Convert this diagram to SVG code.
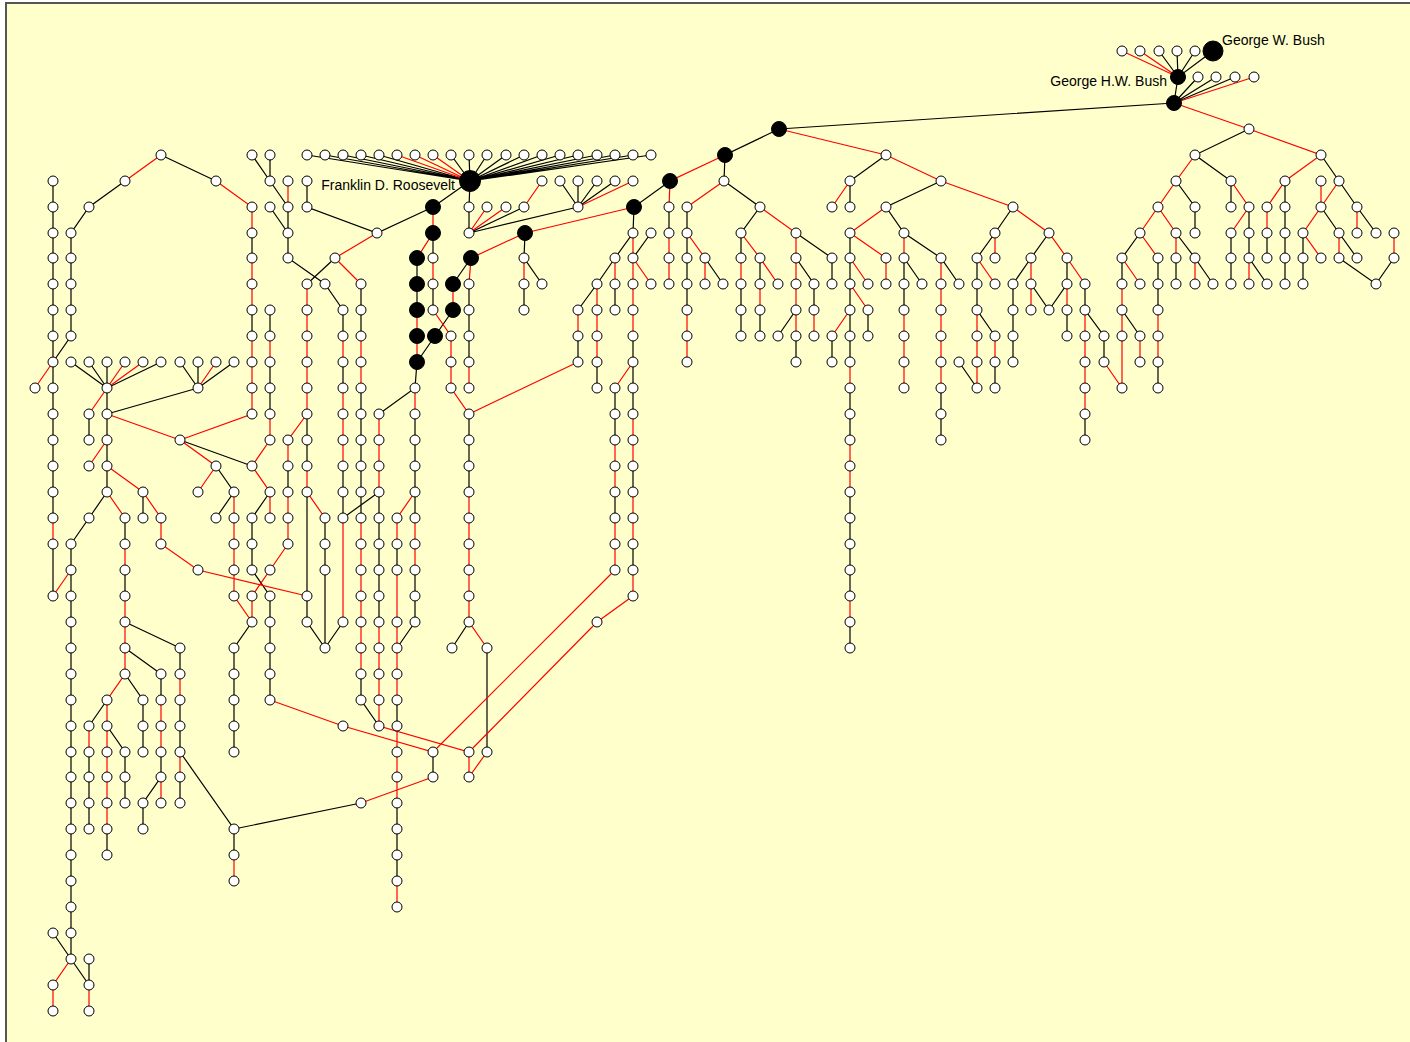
<svg xmlns="http://www.w3.org/2000/svg" width="1410" height="1042" viewBox="0 0 1410 1042">
<style>
.k{fill:none;stroke:#000;stroke-width:1.2}
.r{fill:none;stroke:#f00;stroke-width:1.2}
#nodes circle{fill:#fff;stroke:#000;stroke-width:1}
#nodes .big circle{fill:#000}
text{font-family:"Liberation Sans",Arial,sans-serif;font-size:14px;fill:#000}
</style>
<rect x="0" y="0" width="1410" height="1042" fill="#fff"/>
<rect x="6" y="3" width="1420" height="1050" fill="#ffffcc" stroke="#555" stroke-width="2"/>
<g id="connectors">
<path class="k" d="M161 155 216 181M125 181 89 207 71 233V336L53 362M53 181V518M53 544V596M107 388 71 362M107 388 89 362M107 388V362M107 388 161 362M198 388 180 362M198 388V362M198 388 234 362M107 388V492M198 388 107 414M89 414V440M107 492 89 518 71 544M143 492V518M180 440 252 466M216 466 234 492 216 518M270 492 252 518V570L270 596V700M252 622 234 648V752M252 155 270 181 288 207M270 155V181M270 207 288 233M288 207V258L325 284 343 310M252 233V258M252 310V336M270 310V336M270 362V414M288 466V492M71 544V959M71 959 89 985M89 959V985M53 933 71 959M125 518V544M125 570V596M125 622 180 648M125 648 161 674M125 674 143 700V752M180 648V674M180 700V752M180 777V803M161 674V700M161 752V777L143 803V829M107 829V855M107 700 89 726M89 752V829M107 726 125 752V803M180 752 234 829V855M234 829 361 803"/>
<path class="r" d="M161 155 125 181M53 362 35 388M53 518V544M71 570 53 596M216 181 252 207V233M252 258V310M252 336V414L180 440M107 388 125 362M107 388 143 362M198 388 216 362M107 388 89 414M107 414 180 440M107 440 89 466M107 466 143 492M107 492 125 518M143 492 161 518V544L198 570 307 596M125 544V570M125 596V674L107 700V829M180 440 216 466 198 492M234 492V596L252 622M270 440 252 466 270 492V518M288 544 270 570 252 596V622M270 700 343 726M288 181V207M270 336V362M270 414V440M307 414 288 440V466M288 492V544M71 959 53 985V1011M89 985V1011M180 674V700M180 752V777M161 700V752M161 777V803M89 726V752M234 855V881"/>
<path class="k" d="M470 181 307 155M470 181 325 155M470 181 343 155M470 181 361 155M470 181 379 155M470 181 451 155M470 181 469 155M470 181 487 155M470 181 506 155M470 181 524 155M470 181 542 155M470 181 560 155M470 181 578 155M470 181 597 155M470 181 615 155M470 181 633 155M470 181 651 155M470 181 433 207M417 258V310M433 233V258M433 284V310M417 362 415 388 379 414M471 258 453 284M453 310 435 336 417 362M469 284V362M525 233 524 258 542 284M524 284V310M470 181 469 207V233L524 207M469 233 578 207M578 207 560 181M578 207V181M578 207 597 181M578 207 615 181M307 181V207L377 233 433 207M335 258 307 284M307 414V466M307 492V622L325 648M325 518V648M343 310V336M343 362V388M343 466V518M343 622 325 648M379 492 343 518M361 284V336M361 388V518M361 674V700L379 726M379 492V622M397 544V570M397 700V726M397 803V881M415 622 397 648M415 414V518M415 570V622M469 414V492M469 622 452 648M487 648V752M433 752V777"/>
<path class="r" d="M470 181 397 155M470 181 415 155M470 181 433 155M433 207V233L417 258M417 310V362M433 258V284M433 310 451 336V388L469 414 578 362M415 388V414M634 207 525 233 471 258 469 284M453 284V310M469 362V388M524 258V284M469 233 487 207M469 233 506 207M524 207 542 181M578 207 633 181M377 233 335 258 361 284M307 284V414M307 466V492L325 518M343 336V362M343 388V466M343 518V622M361 336V388M361 518V674M379 414V492M379 622V726L469 752 597 622 633 596M415 492 397 518V544M397 570V700M397 726V803M397 881V907M415 518V570M469 492V622L487 648M343 726 433 752 615 570M433 777 361 803M469 752V777M487 752 469 777"/>
<path class="k" d="M779 129 725 155 724 181 760 207 741 233V258M779 129 1174 103M670 181 634 207 633 233 615 258 597 284 578 310M669 207V233M687 207V310M705 258 723 284M741 284V336M760 258V284M760 310V336M796 233 832 258V284M796 258 814 284V310M796 336V362M796 310 778 336M651 233 633 258M615 284V310M597 362V388M578 336V362M633 336V414M633 466V492M633 544V570M615 388V440M615 492V518"/>
<path class="r" d="M725 155 670 181 669 207M669 233V284M724 181 687 207M687 233 705 258V284M687 310V362M760 207 796 233V336M741 233 760 258 778 284M741 258V284M760 284V310M814 310V336M633 233V336M633 258 651 284M615 258V284M597 284V362M578 310V336M633 362 615 388M633 414V466M633 492V544M633 570V596M615 440V492M615 518V570"/>
<path class="k" d="M886 155 850 181V207M941 181 886 207 904 233 941 258 959 284M850 233V362M850 388V440M850 492V596M850 622V648M868 310V336M832 336V362M904 258V310M904 258 922 284M941 388V440M1013 207 995 233 977 258V310L995 336M995 362V388M959 362 977 388M1049 233 1031 258 1013 284V362M1031 284 1049 310 1067 284V258M1067 310V336M1085 284V310L1104 336V362M1085 414V440"/>
<path class="r" d="M779 129 886 155 941 181 1013 207 1049 233 1067 258 1085 284M850 181 832 207M886 207 850 233M850 233 886 258V284M850 258 868 284M850 284 868 310M850 310 832 336M850 362V388M850 440V492M850 596V622M904 233V258M904 310V388M941 258V388M995 233V258M977 258 995 284M977 310V388M995 336V362M1031 258V310M1067 284V310M1085 310V414M1104 362 1122 388"/>
<path class="k" d="M1213 51 1178 77 1174 103M1178 77 1159 51M1178 77 1177 51M1178 77 1195 51M1174 103 1198 77M1174 103 1216 77M1174 103 1235 77M1249 129 1195 155 1231 181V207M1176 181 1195 207V233M1321 155 1339 181 1357 207 1376 233M1285 181V284M1321 207 1339 233 1357 258M1339 258 1376 284 1394 258M1140 233 1122 258V284M1176 233 1195 258 1213 284M1249 207V258L1267 284M1231 233V284M1267 233V258M1303 233V284M1158 258V310M1176 258V284M1122 310 1140 336M1158 362V388"/>
<path class="r" d="M1178 77 1122 51M1178 77 1140 51M1174 103 1254 77M1174 103 1249 129 1321 155 1285 181 1267 207V233M1195 155 1176 181 1158 207 1140 233M1158 207 1176 233V258M1231 181 1249 207 1231 233M1321 181V207L1303 233 1321 258M1339 181 1321 207M1357 207V233M1339 233V258M1394 233V258M1140 233 1158 258M1122 258 1140 284M1195 258V284M1249 258V284M1122 284V388M1140 336V362M1158 310V362"/>
</g>
<g id="nodes">
<g id="n35_388"><circle cx="35" cy="388" r="5"/></g>
<g id="n53_181"><circle cx="53" cy="181" r="5"/></g>
<g id="n53_207"><circle cx="53" cy="207" r="5"/></g>
<g id="n53_233"><circle cx="53" cy="233" r="5"/></g>
<g id="n53_258"><circle cx="53" cy="258" r="5"/></g>
<g id="n53_284"><circle cx="53" cy="284" r="5"/></g>
<g id="n53_310"><circle cx="53" cy="310" r="5"/></g>
<g id="n53_336"><circle cx="53" cy="336" r="5"/></g>
<g id="n53_362"><circle cx="53" cy="362" r="5"/></g>
<g id="n53_388"><circle cx="53" cy="388" r="5"/></g>
<g id="n53_414"><circle cx="53" cy="414" r="5"/></g>
<g id="n53_440"><circle cx="53" cy="440" r="5"/></g>
<g id="n53_466"><circle cx="53" cy="466" r="5"/></g>
<g id="n53_492"><circle cx="53" cy="492" r="5"/></g>
<g id="n53_518"><circle cx="53" cy="518" r="5"/></g>
<g id="n53_544"><circle cx="53" cy="544" r="5"/></g>
<g id="n53_596"><circle cx="53" cy="596" r="5"/></g>
<g id="n53_933"><circle cx="53" cy="933" r="5"/></g>
<g id="n53_985"><circle cx="53" cy="985" r="5"/></g>
<g id="n53_1011"><circle cx="53" cy="1011" r="5"/></g>
<g id="n71_233"><circle cx="71" cy="233" r="5"/></g>
<g id="n71_258"><circle cx="71" cy="258" r="5"/></g>
<g id="n71_284"><circle cx="71" cy="284" r="5"/></g>
<g id="n71_310"><circle cx="71" cy="310" r="5"/></g>
<g id="n71_336"><circle cx="71" cy="336" r="5"/></g>
<g id="n71_362"><circle cx="71" cy="362" r="5"/></g>
<g id="n71_544"><circle cx="71" cy="544" r="5"/></g>
<g id="n71_570"><circle cx="71" cy="570" r="5"/></g>
<g id="n71_596"><circle cx="71" cy="596" r="5"/></g>
<g id="n71_622"><circle cx="71" cy="622" r="5"/></g>
<g id="n71_648"><circle cx="71" cy="648" r="5"/></g>
<g id="n71_674"><circle cx="71" cy="674" r="5"/></g>
<g id="n71_700"><circle cx="71" cy="700" r="5"/></g>
<g id="n71_726"><circle cx="71" cy="726" r="5"/></g>
<g id="n71_752"><circle cx="71" cy="752" r="5"/></g>
<g id="n71_777"><circle cx="71" cy="777" r="5"/></g>
<g id="n71_803"><circle cx="71" cy="803" r="5"/></g>
<g id="n71_829"><circle cx="71" cy="829" r="5"/></g>
<g id="n71_855"><circle cx="71" cy="855" r="5"/></g>
<g id="n71_881"><circle cx="71" cy="881" r="5"/></g>
<g id="n71_907"><circle cx="71" cy="907" r="5"/></g>
<g id="n71_933"><circle cx="71" cy="933" r="5"/></g>
<g id="n71_959"><circle cx="71" cy="959" r="5"/></g>
<g id="n89_207"><circle cx="89" cy="207" r="5"/></g>
<g id="n89_362"><circle cx="89" cy="362" r="5"/></g>
<g id="n89_414"><circle cx="89" cy="414" r="5"/></g>
<g id="n89_440"><circle cx="89" cy="440" r="5"/></g>
<g id="n89_466"><circle cx="89" cy="466" r="5"/></g>
<g id="n89_518"><circle cx="89" cy="518" r="5"/></g>
<g id="n89_726"><circle cx="89" cy="726" r="5"/></g>
<g id="n89_752"><circle cx="89" cy="752" r="5"/></g>
<g id="n89_777"><circle cx="89" cy="777" r="5"/></g>
<g id="n89_803"><circle cx="89" cy="803" r="5"/></g>
<g id="n89_829"><circle cx="89" cy="829" r="5"/></g>
<g id="n89_959"><circle cx="89" cy="959" r="5"/></g>
<g id="n89_985"><circle cx="89" cy="985" r="5"/></g>
<g id="n89_1011"><circle cx="89" cy="1011" r="5"/></g>
<g id="n107_362"><circle cx="107" cy="362" r="5"/></g>
<g id="n107_388"><circle cx="107" cy="388" r="5"/></g>
<g id="n107_414"><circle cx="107" cy="414" r="5"/></g>
<g id="n107_440"><circle cx="107" cy="440" r="5"/></g>
<g id="n107_466"><circle cx="107" cy="466" r="5"/></g>
<g id="n107_492"><circle cx="107" cy="492" r="5"/></g>
<g id="n107_700"><circle cx="107" cy="700" r="5"/></g>
<g id="n107_726"><circle cx="107" cy="726" r="5"/></g>
<g id="n107_752"><circle cx="107" cy="752" r="5"/></g>
<g id="n107_777"><circle cx="107" cy="777" r="5"/></g>
<g id="n107_803"><circle cx="107" cy="803" r="5"/></g>
<g id="n107_829"><circle cx="107" cy="829" r="5"/></g>
<g id="n107_855"><circle cx="107" cy="855" r="5"/></g>
<g id="n125_181"><circle cx="125" cy="181" r="5"/></g>
<g id="n125_362"><circle cx="125" cy="362" r="5"/></g>
<g id="n125_518"><circle cx="125" cy="518" r="5"/></g>
<g id="n125_544"><circle cx="125" cy="544" r="5"/></g>
<g id="n125_570"><circle cx="125" cy="570" r="5"/></g>
<g id="n125_596"><circle cx="125" cy="596" r="5"/></g>
<g id="n125_622"><circle cx="125" cy="622" r="5"/></g>
<g id="n125_648"><circle cx="125" cy="648" r="5"/></g>
<g id="n125_674"><circle cx="125" cy="674" r="5"/></g>
<g id="n125_752"><circle cx="125" cy="752" r="5"/></g>
<g id="n125_777"><circle cx="125" cy="777" r="5"/></g>
<g id="n125_803"><circle cx="125" cy="803" r="5"/></g>
<g id="n143_362"><circle cx="143" cy="362" r="5"/></g>
<g id="n143_492"><circle cx="143" cy="492" r="5"/></g>
<g id="n143_518"><circle cx="143" cy="518" r="5"/></g>
<g id="n143_700"><circle cx="143" cy="700" r="5"/></g>
<g id="n143_726"><circle cx="143" cy="726" r="5"/></g>
<g id="n143_752"><circle cx="143" cy="752" r="5"/></g>
<g id="n143_803"><circle cx="143" cy="803" r="5"/></g>
<g id="n143_829"><circle cx="143" cy="829" r="5"/></g>
<g id="n161_155"><circle cx="161" cy="155" r="5"/></g>
<g id="n161_362"><circle cx="161" cy="362" r="5"/></g>
<g id="n161_518"><circle cx="161" cy="518" r="5"/></g>
<g id="n161_544"><circle cx="161" cy="544" r="5"/></g>
<g id="n161_674"><circle cx="161" cy="674" r="5"/></g>
<g id="n161_700"><circle cx="161" cy="700" r="5"/></g>
<g id="n161_726"><circle cx="161" cy="726" r="5"/></g>
<g id="n161_752"><circle cx="161" cy="752" r="5"/></g>
<g id="n161_777"><circle cx="161" cy="777" r="5"/></g>
<g id="n161_803"><circle cx="161" cy="803" r="5"/></g>
<g id="n180_362"><circle cx="180" cy="362" r="5"/></g>
<g id="n180_440"><circle cx="180" cy="440" r="5"/></g>
<g id="n180_648"><circle cx="180" cy="648" r="5"/></g>
<g id="n180_674"><circle cx="180" cy="674" r="5"/></g>
<g id="n180_700"><circle cx="180" cy="700" r="5"/></g>
<g id="n180_726"><circle cx="180" cy="726" r="5"/></g>
<g id="n180_752"><circle cx="180" cy="752" r="5"/></g>
<g id="n180_777"><circle cx="180" cy="777" r="5"/></g>
<g id="n180_803"><circle cx="180" cy="803" r="5"/></g>
<g id="n198_362"><circle cx="198" cy="362" r="5"/></g>
<g id="n198_388"><circle cx="198" cy="388" r="5"/></g>
<g id="n198_492"><circle cx="198" cy="492" r="5"/></g>
<g id="n198_570"><circle cx="198" cy="570" r="5"/></g>
<g id="n216_181"><circle cx="216" cy="181" r="5"/></g>
<g id="n216_362"><circle cx="216" cy="362" r="5"/></g>
<g id="n216_466"><circle cx="216" cy="466" r="5"/></g>
<g id="n216_518"><circle cx="216" cy="518" r="5"/></g>
<g id="n234_362"><circle cx="234" cy="362" r="5"/></g>
<g id="n234_492"><circle cx="234" cy="492" r="5"/></g>
<g id="n234_518"><circle cx="234" cy="518" r="5"/></g>
<g id="n234_544"><circle cx="234" cy="544" r="5"/></g>
<g id="n234_570"><circle cx="234" cy="570" r="5"/></g>
<g id="n234_596"><circle cx="234" cy="596" r="5"/></g>
<g id="n234_648"><circle cx="234" cy="648" r="5"/></g>
<g id="n234_674"><circle cx="234" cy="674" r="5"/></g>
<g id="n234_700"><circle cx="234" cy="700" r="5"/></g>
<g id="n234_726"><circle cx="234" cy="726" r="5"/></g>
<g id="n234_752"><circle cx="234" cy="752" r="5"/></g>
<g id="n234_829"><circle cx="234" cy="829" r="5"/></g>
<g id="n234_855"><circle cx="234" cy="855" r="5"/></g>
<g id="n234_881"><circle cx="234" cy="881" r="5"/></g>
<g id="n252_155"><circle cx="252" cy="155" r="5"/></g>
<g id="n252_207"><circle cx="252" cy="207" r="5"/></g>
<g id="n252_233"><circle cx="252" cy="233" r="5"/></g>
<g id="n252_258"><circle cx="252" cy="258" r="5"/></g>
<g id="n252_284"><circle cx="252" cy="284" r="5"/></g>
<g id="n252_310"><circle cx="252" cy="310" r="5"/></g>
<g id="n252_336"><circle cx="252" cy="336" r="5"/></g>
<g id="n252_362"><circle cx="252" cy="362" r="5"/></g>
<g id="n252_388"><circle cx="252" cy="388" r="5"/></g>
<g id="n252_414"><circle cx="252" cy="414" r="5"/></g>
<g id="n252_466"><circle cx="252" cy="466" r="5"/></g>
<g id="n252_518"><circle cx="252" cy="518" r="5"/></g>
<g id="n252_544"><circle cx="252" cy="544" r="5"/></g>
<g id="n252_570"><circle cx="252" cy="570" r="5"/></g>
<g id="n252_596"><circle cx="252" cy="596" r="5"/></g>
<g id="n252_622"><circle cx="252" cy="622" r="5"/></g>
<g id="n270_155"><circle cx="270" cy="155" r="5"/></g>
<g id="n270_181"><circle cx="270" cy="181" r="5"/></g>
<g id="n270_207"><circle cx="270" cy="207" r="5"/></g>
<g id="n270_310"><circle cx="270" cy="310" r="5"/></g>
<g id="n270_336"><circle cx="270" cy="336" r="5"/></g>
<g id="n270_362"><circle cx="270" cy="362" r="5"/></g>
<g id="n270_388"><circle cx="270" cy="388" r="5"/></g>
<g id="n270_414"><circle cx="270" cy="414" r="5"/></g>
<g id="n270_440"><circle cx="270" cy="440" r="5"/></g>
<g id="n270_492"><circle cx="270" cy="492" r="5"/></g>
<g id="n270_518"><circle cx="270" cy="518" r="5"/></g>
<g id="n270_570"><circle cx="270" cy="570" r="5"/></g>
<g id="n270_596"><circle cx="270" cy="596" r="5"/></g>
<g id="n270_622"><circle cx="270" cy="622" r="5"/></g>
<g id="n270_648"><circle cx="270" cy="648" r="5"/></g>
<g id="n270_674"><circle cx="270" cy="674" r="5"/></g>
<g id="n270_700"><circle cx="270" cy="700" r="5"/></g>
<g id="n288_181"><circle cx="288" cy="181" r="5"/></g>
<g id="n288_207"><circle cx="288" cy="207" r="5"/></g>
<g id="n288_233"><circle cx="288" cy="233" r="5"/></g>
<g id="n288_258"><circle cx="288" cy="258" r="5"/></g>
<g id="n288_440"><circle cx="288" cy="440" r="5"/></g>
<g id="n288_466"><circle cx="288" cy="466" r="5"/></g>
<g id="n288_492"><circle cx="288" cy="492" r="5"/></g>
<g id="n288_518"><circle cx="288" cy="518" r="5"/></g>
<g id="n288_544"><circle cx="288" cy="544" r="5"/></g>
<g id="n307_155"><circle cx="307" cy="155" r="5"/></g>
<g id="n307_181"><circle cx="307" cy="181" r="5"/></g>
<g id="n307_207"><circle cx="307" cy="207" r="5"/></g>
<g id="n307_284"><circle cx="307" cy="284" r="5"/></g>
<g id="n307_310"><circle cx="307" cy="310" r="5"/></g>
<g id="n307_336"><circle cx="307" cy="336" r="5"/></g>
<g id="n307_362"><circle cx="307" cy="362" r="5"/></g>
<g id="n307_388"><circle cx="307" cy="388" r="5"/></g>
<g id="n307_414"><circle cx="307" cy="414" r="5"/></g>
<g id="n307_440"><circle cx="307" cy="440" r="5"/></g>
<g id="n307_466"><circle cx="307" cy="466" r="5"/></g>
<g id="n307_492"><circle cx="307" cy="492" r="5"/></g>
<g id="n307_596"><circle cx="307" cy="596" r="5"/></g>
<g id="n307_622"><circle cx="307" cy="622" r="5"/></g>
<g id="n325_155"><circle cx="325" cy="155" r="5"/></g>
<g id="n325_284"><circle cx="325" cy="284" r="5"/></g>
<g id="n325_518"><circle cx="325" cy="518" r="5"/></g>
<g id="n325_544"><circle cx="325" cy="544" r="5"/></g>
<g id="n325_570"><circle cx="325" cy="570" r="5"/></g>
<g id="n325_648"><circle cx="325" cy="648" r="5"/></g>
<g id="n335_258"><circle cx="335" cy="258" r="5"/></g>
<g id="n343_155"><circle cx="343" cy="155" r="5"/></g>
<g id="n343_310"><circle cx="343" cy="310" r="5"/></g>
<g id="n343_336"><circle cx="343" cy="336" r="5"/></g>
<g id="n343_362"><circle cx="343" cy="362" r="5"/></g>
<g id="n343_388"><circle cx="343" cy="388" r="5"/></g>
<g id="n343_414"><circle cx="343" cy="414" r="5"/></g>
<g id="n343_440"><circle cx="343" cy="440" r="5"/></g>
<g id="n343_466"><circle cx="343" cy="466" r="5"/></g>
<g id="n343_492"><circle cx="343" cy="492" r="5"/></g>
<g id="n343_518"><circle cx="343" cy="518" r="5"/></g>
<g id="n343_622"><circle cx="343" cy="622" r="5"/></g>
<g id="n343_726"><circle cx="343" cy="726" r="5"/></g>
<g id="n361_155"><circle cx="361" cy="155" r="5"/></g>
<g id="n361_284"><circle cx="361" cy="284" r="5"/></g>
<g id="n361_310"><circle cx="361" cy="310" r="5"/></g>
<g id="n361_336"><circle cx="361" cy="336" r="5"/></g>
<g id="n361_362"><circle cx="361" cy="362" r="5"/></g>
<g id="n361_388"><circle cx="361" cy="388" r="5"/></g>
<g id="n361_414"><circle cx="361" cy="414" r="5"/></g>
<g id="n361_440"><circle cx="361" cy="440" r="5"/></g>
<g id="n361_466"><circle cx="361" cy="466" r="5"/></g>
<g id="n361_492"><circle cx="361" cy="492" r="5"/></g>
<g id="n361_518"><circle cx="361" cy="518" r="5"/></g>
<g id="n361_544"><circle cx="361" cy="544" r="5"/></g>
<g id="n361_570"><circle cx="361" cy="570" r="5"/></g>
<g id="n361_596"><circle cx="361" cy="596" r="5"/></g>
<g id="n361_622"><circle cx="361" cy="622" r="5"/></g>
<g id="n361_648"><circle cx="361" cy="648" r="5"/></g>
<g id="n361_674"><circle cx="361" cy="674" r="5"/></g>
<g id="n361_700"><circle cx="361" cy="700" r="5"/></g>
<g id="n361_803"><circle cx="361" cy="803" r="5"/></g>
<g id="n377_233"><circle cx="377" cy="233" r="5"/></g>
<g id="n379_155"><circle cx="379" cy="155" r="5"/></g>
<g id="n379_414"><circle cx="379" cy="414" r="5"/></g>
<g id="n379_440"><circle cx="379" cy="440" r="5"/></g>
<g id="n379_466"><circle cx="379" cy="466" r="5"/></g>
<g id="n379_492"><circle cx="379" cy="492" r="5"/></g>
<g id="n379_518"><circle cx="379" cy="518" r="5"/></g>
<g id="n379_544"><circle cx="379" cy="544" r="5"/></g>
<g id="n379_570"><circle cx="379" cy="570" r="5"/></g>
<g id="n379_596"><circle cx="379" cy="596" r="5"/></g>
<g id="n379_622"><circle cx="379" cy="622" r="5"/></g>
<g id="n379_648"><circle cx="379" cy="648" r="5"/></g>
<g id="n379_674"><circle cx="379" cy="674" r="5"/></g>
<g id="n379_700"><circle cx="379" cy="700" r="5"/></g>
<g id="n379_726"><circle cx="379" cy="726" r="5"/></g>
<g id="n397_155"><circle cx="397" cy="155" r="5"/></g>
<g id="n397_518"><circle cx="397" cy="518" r="5"/></g>
<g id="n397_544"><circle cx="397" cy="544" r="5"/></g>
<g id="n397_570"><circle cx="397" cy="570" r="5"/></g>
<g id="n397_622"><circle cx="397" cy="622" r="5"/></g>
<g id="n397_648"><circle cx="397" cy="648" r="5"/></g>
<g id="n397_674"><circle cx="397" cy="674" r="5"/></g>
<g id="n397_700"><circle cx="397" cy="700" r="5"/></g>
<g id="n397_726"><circle cx="397" cy="726" r="5"/></g>
<g id="n397_752"><circle cx="397" cy="752" r="5"/></g>
<g id="n397_777"><circle cx="397" cy="777" r="5"/></g>
<g id="n397_803"><circle cx="397" cy="803" r="5"/></g>
<g id="n397_829"><circle cx="397" cy="829" r="5"/></g>
<g id="n397_855"><circle cx="397" cy="855" r="5"/></g>
<g id="n397_881"><circle cx="397" cy="881" r="5"/></g>
<g id="n397_907"><circle cx="397" cy="907" r="5"/></g>
<g id="n415_155"><circle cx="415" cy="155" r="5"/></g>
<g id="n415_388"><circle cx="415" cy="388" r="5"/></g>
<g id="n415_414"><circle cx="415" cy="414" r="5"/></g>
<g id="n415_440"><circle cx="415" cy="440" r="5"/></g>
<g id="n415_466"><circle cx="415" cy="466" r="5"/></g>
<g id="n415_492"><circle cx="415" cy="492" r="5"/></g>
<g id="n415_518"><circle cx="415" cy="518" r="5"/></g>
<g id="n415_544"><circle cx="415" cy="544" r="5"/></g>
<g id="n415_570"><circle cx="415" cy="570" r="5"/></g>
<g id="n415_596"><circle cx="415" cy="596" r="5"/></g>
<g id="n415_622"><circle cx="415" cy="622" r="5"/></g>
<g id="n433_155"><circle cx="433" cy="155" r="5"/></g>
<g id="n433_258"><circle cx="433" cy="258" r="5"/></g>
<g id="n433_284"><circle cx="433" cy="284" r="5"/></g>
<g id="n433_310"><circle cx="433" cy="310" r="5"/></g>
<g id="n433_752"><circle cx="433" cy="752" r="5"/></g>
<g id="n433_777"><circle cx="433" cy="777" r="5"/></g>
<g id="n451_155"><circle cx="451" cy="155" r="5"/></g>
<g id="n451_336"><circle cx="451" cy="336" r="5"/></g>
<g id="n451_362"><circle cx="451" cy="362" r="5"/></g>
<g id="n451_388"><circle cx="451" cy="388" r="5"/></g>
<g id="n452_648"><circle cx="452" cy="648" r="5"/></g>
<g id="n469_155"><circle cx="469" cy="155" r="5"/></g>
<g id="n469_207"><circle cx="469" cy="207" r="5"/></g>
<g id="n469_233"><circle cx="469" cy="233" r="5"/></g>
<g id="n469_284"><circle cx="469" cy="284" r="5"/></g>
<g id="n469_310"><circle cx="469" cy="310" r="5"/></g>
<g id="n469_336"><circle cx="469" cy="336" r="5"/></g>
<g id="n469_362"><circle cx="469" cy="362" r="5"/></g>
<g id="n469_388"><circle cx="469" cy="388" r="5"/></g>
<g id="n469_414"><circle cx="469" cy="414" r="5"/></g>
<g id="n469_440"><circle cx="469" cy="440" r="5"/></g>
<g id="n469_466"><circle cx="469" cy="466" r="5"/></g>
<g id="n469_492"><circle cx="469" cy="492" r="5"/></g>
<g id="n469_518"><circle cx="469" cy="518" r="5"/></g>
<g id="n469_544"><circle cx="469" cy="544" r="5"/></g>
<g id="n469_570"><circle cx="469" cy="570" r="5"/></g>
<g id="n469_596"><circle cx="469" cy="596" r="5"/></g>
<g id="n469_622"><circle cx="469" cy="622" r="5"/></g>
<g id="n469_752"><circle cx="469" cy="752" r="5"/></g>
<g id="n469_777"><circle cx="469" cy="777" r="5"/></g>
<g id="n487_155"><circle cx="487" cy="155" r="5"/></g>
<g id="n487_207"><circle cx="487" cy="207" r="5"/></g>
<g id="n487_648"><circle cx="487" cy="648" r="5"/></g>
<g id="n487_752"><circle cx="487" cy="752" r="5"/></g>
<g id="n506_155"><circle cx="506" cy="155" r="5"/></g>
<g id="n506_207"><circle cx="506" cy="207" r="5"/></g>
<g id="n524_155"><circle cx="524" cy="155" r="5"/></g>
<g id="n524_207"><circle cx="524" cy="207" r="5"/></g>
<g id="n524_258"><circle cx="524" cy="258" r="5"/></g>
<g id="n524_284"><circle cx="524" cy="284" r="5"/></g>
<g id="n524_310"><circle cx="524" cy="310" r="5"/></g>
<g id="n542_155"><circle cx="542" cy="155" r="5"/></g>
<g id="n542_181"><circle cx="542" cy="181" r="5"/></g>
<g id="n542_284"><circle cx="542" cy="284" r="5"/></g>
<g id="n560_155"><circle cx="560" cy="155" r="5"/></g>
<g id="n560_181"><circle cx="560" cy="181" r="5"/></g>
<g id="n578_155"><circle cx="578" cy="155" r="5"/></g>
<g id="n578_181"><circle cx="578" cy="181" r="5"/></g>
<g id="n578_207"><circle cx="578" cy="207" r="5"/></g>
<g id="n578_310"><circle cx="578" cy="310" r="5"/></g>
<g id="n578_336"><circle cx="578" cy="336" r="5"/></g>
<g id="n578_362"><circle cx="578" cy="362" r="5"/></g>
<g id="n597_155"><circle cx="597" cy="155" r="5"/></g>
<g id="n597_181"><circle cx="597" cy="181" r="5"/></g>
<g id="n597_284"><circle cx="597" cy="284" r="5"/></g>
<g id="n597_310"><circle cx="597" cy="310" r="5"/></g>
<g id="n597_336"><circle cx="597" cy="336" r="5"/></g>
<g id="n597_362"><circle cx="597" cy="362" r="5"/></g>
<g id="n597_388"><circle cx="597" cy="388" r="5"/></g>
<g id="n597_622"><circle cx="597" cy="622" r="5"/></g>
<g id="n615_155"><circle cx="615" cy="155" r="5"/></g>
<g id="n615_181"><circle cx="615" cy="181" r="5"/></g>
<g id="n615_258"><circle cx="615" cy="258" r="5"/></g>
<g id="n615_284"><circle cx="615" cy="284" r="5"/></g>
<g id="n615_310"><circle cx="615" cy="310" r="5"/></g>
<g id="n615_388"><circle cx="615" cy="388" r="5"/></g>
<g id="n615_414"><circle cx="615" cy="414" r="5"/></g>
<g id="n615_440"><circle cx="615" cy="440" r="5"/></g>
<g id="n615_466"><circle cx="615" cy="466" r="5"/></g>
<g id="n615_492"><circle cx="615" cy="492" r="5"/></g>
<g id="n615_518"><circle cx="615" cy="518" r="5"/></g>
<g id="n615_544"><circle cx="615" cy="544" r="5"/></g>
<g id="n615_570"><circle cx="615" cy="570" r="5"/></g>
<g id="n633_155"><circle cx="633" cy="155" r="5"/></g>
<g id="n633_181"><circle cx="633" cy="181" r="5"/></g>
<g id="n633_233"><circle cx="633" cy="233" r="5"/></g>
<g id="n633_258"><circle cx="633" cy="258" r="5"/></g>
<g id="n633_284"><circle cx="633" cy="284" r="5"/></g>
<g id="n633_310"><circle cx="633" cy="310" r="5"/></g>
<g id="n633_336"><circle cx="633" cy="336" r="5"/></g>
<g id="n633_362"><circle cx="633" cy="362" r="5"/></g>
<g id="n633_388"><circle cx="633" cy="388" r="5"/></g>
<g id="n633_414"><circle cx="633" cy="414" r="5"/></g>
<g id="n633_440"><circle cx="633" cy="440" r="5"/></g>
<g id="n633_466"><circle cx="633" cy="466" r="5"/></g>
<g id="n633_492"><circle cx="633" cy="492" r="5"/></g>
<g id="n633_518"><circle cx="633" cy="518" r="5"/></g>
<g id="n633_544"><circle cx="633" cy="544" r="5"/></g>
<g id="n633_570"><circle cx="633" cy="570" r="5"/></g>
<g id="n633_596"><circle cx="633" cy="596" r="5"/></g>
<g id="n651_155"><circle cx="651" cy="155" r="5"/></g>
<g id="n651_233"><circle cx="651" cy="233" r="5"/></g>
<g id="n651_284"><circle cx="651" cy="284" r="5"/></g>
<g id="n669_207"><circle cx="669" cy="207" r="5"/></g>
<g id="n669_233"><circle cx="669" cy="233" r="5"/></g>
<g id="n669_258"><circle cx="669" cy="258" r="5"/></g>
<g id="n669_284"><circle cx="669" cy="284" r="5"/></g>
<g id="n687_207"><circle cx="687" cy="207" r="5"/></g>
<g id="n687_233"><circle cx="687" cy="233" r="5"/></g>
<g id="n687_258"><circle cx="687" cy="258" r="5"/></g>
<g id="n687_284"><circle cx="687" cy="284" r="5"/></g>
<g id="n687_310"><circle cx="687" cy="310" r="5"/></g>
<g id="n687_336"><circle cx="687" cy="336" r="5"/></g>
<g id="n687_362"><circle cx="687" cy="362" r="5"/></g>
<g id="n705_258"><circle cx="705" cy="258" r="5"/></g>
<g id="n705_284"><circle cx="705" cy="284" r="5"/></g>
<g id="n723_284"><circle cx="723" cy="284" r="5"/></g>
<g id="n724_181"><circle cx="724" cy="181" r="5"/></g>
<g id="n741_233"><circle cx="741" cy="233" r="5"/></g>
<g id="n741_258"><circle cx="741" cy="258" r="5"/></g>
<g id="n741_284"><circle cx="741" cy="284" r="5"/></g>
<g id="n741_310"><circle cx="741" cy="310" r="5"/></g>
<g id="n741_336"><circle cx="741" cy="336" r="5"/></g>
<g id="n760_207"><circle cx="760" cy="207" r="5"/></g>
<g id="n760_258"><circle cx="760" cy="258" r="5"/></g>
<g id="n760_284"><circle cx="760" cy="284" r="5"/></g>
<g id="n760_310"><circle cx="760" cy="310" r="5"/></g>
<g id="n760_336"><circle cx="760" cy="336" r="5"/></g>
<g id="n778_284"><circle cx="778" cy="284" r="5"/></g>
<g id="n778_336"><circle cx="778" cy="336" r="5"/></g>
<g id="n796_233"><circle cx="796" cy="233" r="5"/></g>
<g id="n796_258"><circle cx="796" cy="258" r="5"/></g>
<g id="n796_284"><circle cx="796" cy="284" r="5"/></g>
<g id="n796_310"><circle cx="796" cy="310" r="5"/></g>
<g id="n796_336"><circle cx="796" cy="336" r="5"/></g>
<g id="n796_362"><circle cx="796" cy="362" r="5"/></g>
<g id="n814_284"><circle cx="814" cy="284" r="5"/></g>
<g id="n814_310"><circle cx="814" cy="310" r="5"/></g>
<g id="n814_336"><circle cx="814" cy="336" r="5"/></g>
<g id="n832_207"><circle cx="832" cy="207" r="5"/></g>
<g id="n832_258"><circle cx="832" cy="258" r="5"/></g>
<g id="n832_284"><circle cx="832" cy="284" r="5"/></g>
<g id="n832_336"><circle cx="832" cy="336" r="5"/></g>
<g id="n832_362"><circle cx="832" cy="362" r="5"/></g>
<g id="n850_181"><circle cx="850" cy="181" r="5"/></g>
<g id="n850_207"><circle cx="850" cy="207" r="5"/></g>
<g id="n850_233"><circle cx="850" cy="233" r="5"/></g>
<g id="n850_258"><circle cx="850" cy="258" r="5"/></g>
<g id="n850_284"><circle cx="850" cy="284" r="5"/></g>
<g id="n850_310"><circle cx="850" cy="310" r="5"/></g>
<g id="n850_336"><circle cx="850" cy="336" r="5"/></g>
<g id="n850_362"><circle cx="850" cy="362" r="5"/></g>
<g id="n850_388"><circle cx="850" cy="388" r="5"/></g>
<g id="n850_414"><circle cx="850" cy="414" r="5"/></g>
<g id="n850_440"><circle cx="850" cy="440" r="5"/></g>
<g id="n850_466"><circle cx="850" cy="466" r="5"/></g>
<g id="n850_492"><circle cx="850" cy="492" r="5"/></g>
<g id="n850_518"><circle cx="850" cy="518" r="5"/></g>
<g id="n850_544"><circle cx="850" cy="544" r="5"/></g>
<g id="n850_570"><circle cx="850" cy="570" r="5"/></g>
<g id="n850_596"><circle cx="850" cy="596" r="5"/></g>
<g id="n850_622"><circle cx="850" cy="622" r="5"/></g>
<g id="n850_648"><circle cx="850" cy="648" r="5"/></g>
<g id="n868_284"><circle cx="868" cy="284" r="5"/></g>
<g id="n868_310"><circle cx="868" cy="310" r="5"/></g>
<g id="n868_336"><circle cx="868" cy="336" r="5"/></g>
<g id="n886_155"><circle cx="886" cy="155" r="5"/></g>
<g id="n886_207"><circle cx="886" cy="207" r="5"/></g>
<g id="n886_258"><circle cx="886" cy="258" r="5"/></g>
<g id="n886_284"><circle cx="886" cy="284" r="5"/></g>
<g id="n904_233"><circle cx="904" cy="233" r="5"/></g>
<g id="n904_258"><circle cx="904" cy="258" r="5"/></g>
<g id="n904_284"><circle cx="904" cy="284" r="5"/></g>
<g id="n904_310"><circle cx="904" cy="310" r="5"/></g>
<g id="n904_336"><circle cx="904" cy="336" r="5"/></g>
<g id="n904_362"><circle cx="904" cy="362" r="5"/></g>
<g id="n904_388"><circle cx="904" cy="388" r="5"/></g>
<g id="n922_284"><circle cx="922" cy="284" r="5"/></g>
<g id="n941_181"><circle cx="941" cy="181" r="5"/></g>
<g id="n941_258"><circle cx="941" cy="258" r="5"/></g>
<g id="n941_284"><circle cx="941" cy="284" r="5"/></g>
<g id="n941_310"><circle cx="941" cy="310" r="5"/></g>
<g id="n941_336"><circle cx="941" cy="336" r="5"/></g>
<g id="n941_362"><circle cx="941" cy="362" r="5"/></g>
<g id="n941_388"><circle cx="941" cy="388" r="5"/></g>
<g id="n941_414"><circle cx="941" cy="414" r="5"/></g>
<g id="n941_440"><circle cx="941" cy="440" r="5"/></g>
<g id="n959_284"><circle cx="959" cy="284" r="5"/></g>
<g id="n959_362"><circle cx="959" cy="362" r="5"/></g>
<g id="n977_258"><circle cx="977" cy="258" r="5"/></g>
<g id="n977_284"><circle cx="977" cy="284" r="5"/></g>
<g id="n977_310"><circle cx="977" cy="310" r="5"/></g>
<g id="n977_336"><circle cx="977" cy="336" r="5"/></g>
<g id="n977_362"><circle cx="977" cy="362" r="5"/></g>
<g id="n977_388"><circle cx="977" cy="388" r="5"/></g>
<g id="n995_233"><circle cx="995" cy="233" r="5"/></g>
<g id="n995_258"><circle cx="995" cy="258" r="5"/></g>
<g id="n995_284"><circle cx="995" cy="284" r="5"/></g>
<g id="n995_336"><circle cx="995" cy="336" r="5"/></g>
<g id="n995_362"><circle cx="995" cy="362" r="5"/></g>
<g id="n995_388"><circle cx="995" cy="388" r="5"/></g>
<g id="n1013_207"><circle cx="1013" cy="207" r="5"/></g>
<g id="n1013_284"><circle cx="1013" cy="284" r="5"/></g>
<g id="n1013_310"><circle cx="1013" cy="310" r="5"/></g>
<g id="n1013_336"><circle cx="1013" cy="336" r="5"/></g>
<g id="n1013_362"><circle cx="1013" cy="362" r="5"/></g>
<g id="n1031_258"><circle cx="1031" cy="258" r="5"/></g>
<g id="n1031_284"><circle cx="1031" cy="284" r="5"/></g>
<g id="n1031_310"><circle cx="1031" cy="310" r="5"/></g>
<g id="n1049_233"><circle cx="1049" cy="233" r="5"/></g>
<g id="n1049_310"><circle cx="1049" cy="310" r="5"/></g>
<g id="n1067_258"><circle cx="1067" cy="258" r="5"/></g>
<g id="n1067_284"><circle cx="1067" cy="284" r="5"/></g>
<g id="n1067_310"><circle cx="1067" cy="310" r="5"/></g>
<g id="n1067_336"><circle cx="1067" cy="336" r="5"/></g>
<g id="n1085_284"><circle cx="1085" cy="284" r="5"/></g>
<g id="n1085_310"><circle cx="1085" cy="310" r="5"/></g>
<g id="n1085_336"><circle cx="1085" cy="336" r="5"/></g>
<g id="n1085_362"><circle cx="1085" cy="362" r="5"/></g>
<g id="n1085_388"><circle cx="1085" cy="388" r="5"/></g>
<g id="n1085_414"><circle cx="1085" cy="414" r="5"/></g>
<g id="n1085_440"><circle cx="1085" cy="440" r="5"/></g>
<g id="n1104_336"><circle cx="1104" cy="336" r="5"/></g>
<g id="n1104_362"><circle cx="1104" cy="362" r="5"/></g>
<g id="n1122_51"><circle cx="1122" cy="51" r="5"/></g>
<g id="n1122_258"><circle cx="1122" cy="258" r="5"/></g>
<g id="n1122_284"><circle cx="1122" cy="284" r="5"/></g>
<g id="n1122_310"><circle cx="1122" cy="310" r="5"/></g>
<g id="n1122_336"><circle cx="1122" cy="336" r="5"/></g>
<g id="n1122_388"><circle cx="1122" cy="388" r="5"/></g>
<g id="n1140_51"><circle cx="1140" cy="51" r="5"/></g>
<g id="n1140_233"><circle cx="1140" cy="233" r="5"/></g>
<g id="n1140_284"><circle cx="1140" cy="284" r="5"/></g>
<g id="n1140_336"><circle cx="1140" cy="336" r="5"/></g>
<g id="n1140_362"><circle cx="1140" cy="362" r="5"/></g>
<g id="n1158_207"><circle cx="1158" cy="207" r="5"/></g>
<g id="n1158_258"><circle cx="1158" cy="258" r="5"/></g>
<g id="n1158_284"><circle cx="1158" cy="284" r="5"/></g>
<g id="n1158_310"><circle cx="1158" cy="310" r="5"/></g>
<g id="n1158_336"><circle cx="1158" cy="336" r="5"/></g>
<g id="n1158_362"><circle cx="1158" cy="362" r="5"/></g>
<g id="n1158_388"><circle cx="1158" cy="388" r="5"/></g>
<g id="n1159_51"><circle cx="1159" cy="51" r="5"/></g>
<g id="n1176_181"><circle cx="1176" cy="181" r="5"/></g>
<g id="n1176_233"><circle cx="1176" cy="233" r="5"/></g>
<g id="n1176_258"><circle cx="1176" cy="258" r="5"/></g>
<g id="n1176_284"><circle cx="1176" cy="284" r="5"/></g>
<g id="n1177_51"><circle cx="1177" cy="51" r="5"/></g>
<g id="n1195_51"><circle cx="1195" cy="51" r="5"/></g>
<g id="n1195_155"><circle cx="1195" cy="155" r="5"/></g>
<g id="n1195_207"><circle cx="1195" cy="207" r="5"/></g>
<g id="n1195_233"><circle cx="1195" cy="233" r="5"/></g>
<g id="n1195_258"><circle cx="1195" cy="258" r="5"/></g>
<g id="n1195_284"><circle cx="1195" cy="284" r="5"/></g>
<g id="n1198_77"><circle cx="1198" cy="77" r="5"/></g>
<g id="n1213_284"><circle cx="1213" cy="284" r="5"/></g>
<g id="n1216_77"><circle cx="1216" cy="77" r="5"/></g>
<g id="n1231_181"><circle cx="1231" cy="181" r="5"/></g>
<g id="n1231_207"><circle cx="1231" cy="207" r="5"/></g>
<g id="n1231_233"><circle cx="1231" cy="233" r="5"/></g>
<g id="n1231_258"><circle cx="1231" cy="258" r="5"/></g>
<g id="n1231_284"><circle cx="1231" cy="284" r="5"/></g>
<g id="n1235_77"><circle cx="1235" cy="77" r="5"/></g>
<g id="n1249_129"><circle cx="1249" cy="129" r="5"/></g>
<g id="n1249_207"><circle cx="1249" cy="207" r="5"/></g>
<g id="n1249_233"><circle cx="1249" cy="233" r="5"/></g>
<g id="n1249_258"><circle cx="1249" cy="258" r="5"/></g>
<g id="n1249_284"><circle cx="1249" cy="284" r="5"/></g>
<g id="n1254_77"><circle cx="1254" cy="77" r="5"/></g>
<g id="n1267_207"><circle cx="1267" cy="207" r="5"/></g>
<g id="n1267_233"><circle cx="1267" cy="233" r="5"/></g>
<g id="n1267_258"><circle cx="1267" cy="258" r="5"/></g>
<g id="n1267_284"><circle cx="1267" cy="284" r="5"/></g>
<g id="n1285_181"><circle cx="1285" cy="181" r="5"/></g>
<g id="n1285_207"><circle cx="1285" cy="207" r="5"/></g>
<g id="n1285_233"><circle cx="1285" cy="233" r="5"/></g>
<g id="n1285_258"><circle cx="1285" cy="258" r="5"/></g>
<g id="n1285_284"><circle cx="1285" cy="284" r="5"/></g>
<g id="n1303_233"><circle cx="1303" cy="233" r="5"/></g>
<g id="n1303_258"><circle cx="1303" cy="258" r="5"/></g>
<g id="n1303_284"><circle cx="1303" cy="284" r="5"/></g>
<g id="n1321_155"><circle cx="1321" cy="155" r="5"/></g>
<g id="n1321_181"><circle cx="1321" cy="181" r="5"/></g>
<g id="n1321_207"><circle cx="1321" cy="207" r="5"/></g>
<g id="n1321_258"><circle cx="1321" cy="258" r="5"/></g>
<g id="n1339_181"><circle cx="1339" cy="181" r="5"/></g>
<g id="n1339_233"><circle cx="1339" cy="233" r="5"/></g>
<g id="n1339_258"><circle cx="1339" cy="258" r="5"/></g>
<g id="n1357_207"><circle cx="1357" cy="207" r="5"/></g>
<g id="n1357_233"><circle cx="1357" cy="233" r="5"/></g>
<g id="n1357_258"><circle cx="1357" cy="258" r="5"/></g>
<g id="n1376_233"><circle cx="1376" cy="233" r="5"/></g>
<g id="n1376_284"><circle cx="1376" cy="284" r="5"/></g>
<g id="n1394_233"><circle cx="1394" cy="233" r="5"/></g>
<g id="n1394_258"><circle cx="1394" cy="258" r="5"/></g>
<g id="b433_207" class="big"><circle cx="433" cy="207" r="7.5"/></g>
<g id="b433_233" class="big"><circle cx="433" cy="233" r="7.5"/></g>
<g id="b417_258" class="big"><circle cx="417" cy="258" r="7.5"/></g>
<g id="b417_284" class="big"><circle cx="417" cy="284" r="7.5"/></g>
<g id="b417_310" class="big"><circle cx="417" cy="310" r="7.5"/></g>
<g id="b417_336" class="big"><circle cx="417" cy="336" r="7.5"/></g>
<g id="b417_362" class="big"><circle cx="417" cy="362" r="7.5"/></g>
<g id="b453_284" class="big"><circle cx="453" cy="284" r="7.5"/></g>
<g id="b453_310" class="big"><circle cx="453" cy="310" r="7.5"/></g>
<g id="b435_336" class="big"><circle cx="435" cy="336" r="7.5"/></g>
<g id="b471_258" class="big"><circle cx="471" cy="258" r="7.5"/></g>
<g id="b525_233" class="big"><circle cx="525" cy="233" r="7.5"/></g>
<g id="b634_207" class="big"><circle cx="634" cy="207" r="7.5"/></g>
<g id="b670_181" class="big"><circle cx="670" cy="181" r="7.5"/></g>
<g id="b725_155" class="big"><circle cx="725" cy="155" r="7.5"/></g>
<g id="b779_129" class="big"><circle cx="779" cy="129" r="7.5"/></g>
<g id="b1174_103" class="big"><circle cx="1174" cy="103" r="7.5"/></g>
<g id="hw_bush" class="big"><circle cx="1178" cy="77" r="7.5"/><text x="1167" y="86" text-anchor="end">George H.W. Bush</text></g>
<g id="fdr" class="big"><circle cx="470" cy="181" r="10.5"/><text x="455" y="190" text-anchor="end">Franklin D. Roosevelt</text></g>
<g id="gw_bush" class="big"><circle cx="1213" cy="51" r="10"/><text x="1222" y="45">George W. Bush</text></g>
</g>
</svg>
